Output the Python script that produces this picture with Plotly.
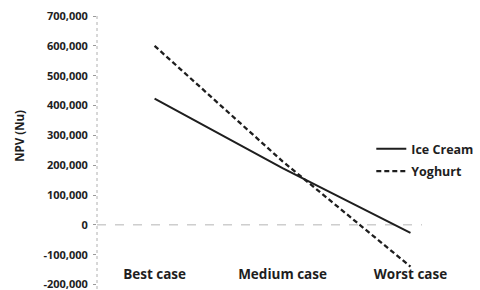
import plotly.graph_objects as go

categories = ["Best case", "Medium case", "Worst case"]
ice_cream = [423000, 190000, -27000]
yoghurt = [600000, 213000, -140000]
tick_vals = [700000, 600000, 500000, 400000, 300000, 200000, 100000, 0, -100000, -200000]
tick_text = ["700,000", "600,000", "500,000", "400,000", "300,000", "200,000",
             "100,000", "0", "-100,000", "-200,000"]
y_title = "NPV (Nu)"

font_family = "Open Sans, Liberation Sans, sans-serif"
ink = "#1e1e1e"

fig = go.Figure()
fig.add_trace(go.Scatter(x=categories, y=ice_cream, mode="lines", name="Ice Cream",
                         legendgroup="a", line=dict(color=ink, width=2)))
fig.add_trace(go.Scatter(x=categories, y=yoghurt, mode="lines", name="Yoghurt",
                         legendgroup="b", line=dict(color=ink, width=2.3, dash="5px,3px")))

# zero line (dashed, faint) and vertical axis (dotted, faint)
fig.add_shape(type="line", xref="paper", yref="y", x0=0, x1=1, y0=0, y1=0,
              line=dict(color="#b5b5b5", width=1, dash="dash"), layer="below")
fig.add_shape(type="line", xref="paper", yref="paper", x0=0, x1=0, y0=0, y1=1,
              line=dict(color="#b0b0b0", width=1, dash="dot"), layer="below")

# y-axis title as rotated annotation
fig.add_annotation(text=y_title, xref="paper", yref="paper", x=-0.241, y=0.56,
                   xanchor="center", yanchor="middle", textangle=-90, showarrow=False,
                   font=dict(size=11.5, color=ink, family=font_family, weight="bold"))

fig.update_layout(
    width=480, height=290,
    margin=dict(l=97, r=55, t=16, b=1),
    paper_bgcolor="white", plot_bgcolor="white",
    font=dict(family=font_family, size=11, color=ink),
    showlegend=True,
    legend=dict(x=0.844, y=0.567, xanchor="left", yanchor="top",
                bgcolor="rgba(0,0,0,0)",
                font=dict(size=12.5, color=ink, family=font_family, weight="bold"),
                tracegroupgap=3, itemwidth=30),
    xaxis=dict(type="category", range=[-0.45, 2.09], showgrid=False, showline=False,
               zeroline=False, ticks="", automargin=False,
               anchor="free", position=0.09,
               tickfont=dict(size=13.5, color=ink, family=font_family, weight="bold")),
    yaxis=dict(range=[-215000, 700000], tickvals=tick_vals, ticktext=tick_text,
               showgrid=False, zeroline=False, showline=False, automargin=False,
               ticks="outside", ticklen=3, tickcolor="#9a9a9a", ticklabelstandoff=3,
               ticklabeloverflow="allow",
               tickfont=dict(size=11, color=ink, family=font_family, weight="bold")),
)

fig.write_html("out.html", config={"displayModeBar": False},
               post_script="document.body.style.margin='0';")
